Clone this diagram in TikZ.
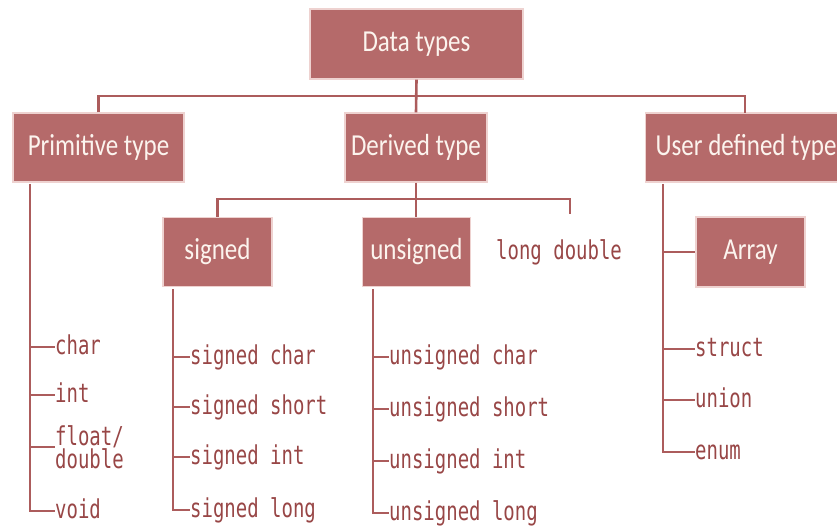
\documentclass[tikz,border=0pt]{standalone}
\usepackage{fontspec}
\newfontfamily\boxfont{Carlito}
\newfontfamily\labfont{DejaVu Sans Mono}
\definecolor{boxfill}{RGB}{181,106,106}
\definecolor{boxedge}{RGB}{238,210,208}
\definecolor{linecol}{RGB}{172,92,92}
\definecolor{labcol}{RGB}{152,70,70}
\definecolor{boxtext}{RGB}{252,244,238}
\newcommand{\bxt}[1]{\scalebox{0.82}[1]{\boxfont\fontsize{30.5}{32}\selectfont #1}}
\newcommand{\lbt}[1]{\scalebox{0.73}[1]{\labfont\fontsize{26}{28}\selectfont #1}}
\tikzset{
  box/.style={fill=boxfill, draw=boxedge, line width=1.2pt, inner sep=0pt, text=boxtext, rectangle},
  lab/.style={anchor=west, inner sep=0pt, text=labcol, text height=18pt, text depth=3pt},
  conn/.style={draw=linecol, line width=2.6pt},
}
\begin{document}
\begin{tikzpicture}[x=1pt,y=-1pt]
\clip (0,0) rectangle (837,529);
\fill[white] (0,0) rectangle (837,529);
% boxes
\node[box, minimum width=213pt, minimum height=70pt] (dt) at (416.5,44) {\bxt{Data types}};
\node[box, minimum width=171pt, minimum height=69pt] (prim) at (98.5,147.5) {\bxt{Primitive type}};
\node[box, minimum width=142pt, minimum height=69pt] (der) at (416,147.5) {\bxt{Derived type}};
\node[box, minimum height=69pt, anchor=west, inner xsep=10pt] (usr) at (645,147.5) {\bxt{User defined type}\hspace{20pt}};
\node[box, minimum width=109pt, minimum height=69pt] (sgn) at (217.5,252) {\bxt{signed}};
\node[box, minimum width=108pt, minimum height=69pt] (uns) at (416.5,252) {\bxt{unsigned}};
\node[box, minimum width=109pt, minimum height=70pt] (arr) at (750.5,252) {\bxt{Array}};
% labels
\node[lab] (ld) at (496,252) {\lbt{long double}};
\node[lab] (pchar) at (55,347) {\lbt{char}};
\node[lab] (pint) at (55,395) {\lbt{int}};
\node[lab, align=left, text height=46pt, text depth=3pt] (pfd) at (55,447) {\lbt{float/}\\\lbt{double}};
\node[lab] (pvoid) at (55,511) {\lbt{void}};
\node[lab] (schar) at (190,357) {\lbt{signed char}};
\node[lab] (sshort) at (190,407) {\lbt{signed short}};
\node[lab] (sint) at (190,457) {\lbt{signed int}};
\node[lab] (slong) at (190,510) {\lbt{signed long}};
\node[lab] (uchar) at (389,357) {\lbt{unsigned char}};
\node[lab] (ushort) at (389,409) {\lbt{unsigned short}};
\node[lab] (uint) at (389,461) {\lbt{unsigned int}};
\node[lab] (ulong) at (389,513) {\lbt{unsigned long}};
\node[lab] (struct) at (695,349) {\lbt{struct}};
\node[lab] (union) at (695,400) {\lbt{union}};
\node[lab] (enum) at (695,452) {\lbt{enum}};
% coordinates
\coordinate (bus) at (416,96);
\coordinate (utop) at (745,113);
\coordinate (dbus) at (416,199);
\coordinate (ldtop) at (570,214);
\coordinate (pv) at (30,184);
\coordinate (sv) at (173,289);
\coordinate (uv) at (373,289);
\coordinate (usv) at (663,184);
% connectors
\draw[conn] (dt.south) -- (der.north);
\draw[conn] (prim.north) |- (bus) -| (utop);
\draw[conn] (der.south) -- (der.south |- uns.north);
\draw[conn] (sgn.north) |- (dbus) -| (ldtop);
\draw[conn] (pv) |- (pvoid.west);
\foreach \n in {pchar,pint,pfd} \draw[conn] (pv |- \n.west) -- (\n.west);
\draw[conn] (sv) |- (slong.west);
\foreach \n in {schar,sshort,sint} \draw[conn] (sv |- \n.west) -- (\n.west);
\draw[conn] (uv) |- (ulong.west);
\foreach \n in {uchar,ushort,uint} \draw[conn] (uv |- \n.west) -- (\n.west);
\draw[conn] (usv) |- (enum.west);
\foreach \n in {arr,struct,union} \draw[conn] (usv |- \n.west) -- (\n.west);
\end{tikzpicture}
\end{document}
